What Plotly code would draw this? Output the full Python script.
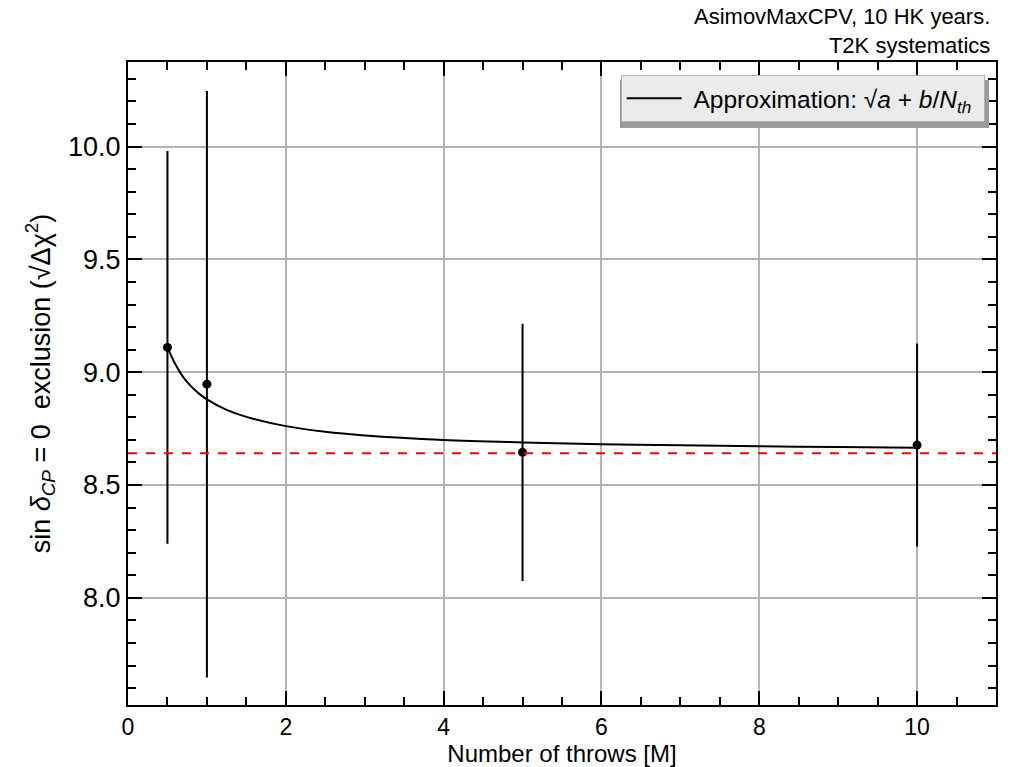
import plotly.graph_objects as go

# Measured points (Number of throws [M], sqrt(delta chi2)) with symmetric errors
throws = [0.5, 1.0, 5.0, 10.0]
exclusion = [9.11, 8.947, 8.645, 8.677]
exclusion_err = [0.87, 1.30, 0.57, 0.45]

# Approximation curve sqrt(a + b/N_th)
curve_n = [0.5, 0.6, 0.7, 0.8, 0.9, 1.0, 1.25, 1.5, 2.0, 2.5, 3.0, 4.0, 5.0, 6.0, 7.0, 8.0, 9.0, 10.0]
curve_y = [9.11, 9.035, 8.978, 8.937, 8.905, 8.880, 8.833, 8.802, 8.761, 8.736, 8.720, 8.700, 8.689, 8.681, 8.676, 8.672, 8.668, 8.665]

# Asymptote sqrt(a)
asymptote = 8.641

x_ticks = [0, 2, 4, 6, 8, 10]
y_ticks = [8.0, 8.5, 9.0, 9.5, 10.0]

fig = go.Figure()

fig.add_trace(go.Scatter(
    x=curve_n, y=curve_y, mode="lines", line=dict(color="black", width=2, shape="spline"),
    name="\u00a0Approximation: √<i>a</i> + <i>b</i>/<i>N</i><sub><i>th</i></sub>\u00a0",
    showlegend=True,
))

fig.add_trace(go.Scatter(
    x=throws, y=exclusion, mode="markers",
    marker=dict(color="black", size=9),
    error_y=dict(type="data", array=exclusion_err, color="black", thickness=2, width=0),
    showlegend=False,
))

fig.add_hline(y=asymptote, line=dict(color="red", width=2, dash="dash"))

axis_common = dict(
    showline=True, linecolor="black", linewidth=2, mirror="allticks",
    ticks="inside", ticklen=14, tickwidth=2, tickcolor="black",
    showgrid=True, gridcolor="#b3b3b3", gridwidth=2, zeroline=False,
    automargin=False,
)

fig.update_xaxes(
    range=[0, 11], tickvals=x_ticks, ticktext=[str(v) for v in x_ticks],
    tickfont=dict(family="Liberation Sans", size=23, color="black"),
    title=dict(text="Number of throws [M]", font=dict(family="Liberation Sans", size=24, color="black"), standoff=0),
    minor=dict(dtick=0.5, ticks="inside", ticklen=8, tickwidth=1.5, tickcolor="black", showgrid=False),
    **axis_common,
)
fig.update_yaxes(
    range=[7.525, 10.375], tickvals=y_ticks, ticktext=[f"{v:.1f}" for v in y_ticks],
    tickfont=dict(family="Liberation Sans", size=27, color="black"),
    title=dict(text="sin <i>δ</i><sub><i>CP</i></sub> = 0\u00a0\u00a0exclusion (√Δχ<sup>2</sup>)",
               font=dict(family="Liberation Sans", size=27, color="black"), standoff=10),
    minor=dict(dtick=0.1, ticks="inside", ticklen=8, tickwidth=1.5, tickcolor="black", showgrid=False),
    **axis_common,
)

fig.add_annotation(
    text="AsimovMaxCPV, 10 HK years.<br>T2K systematics",
    xref="paper", yref="paper", x=0.995, y=1.0, xanchor="right", yanchor="bottom",
    yshift=2, align="right", showarrow=False,
    font=dict(family="Liberation Sans", size=22, color="black"),
)

# Legend drop shadow (drawn beneath the legend box, offset right/down)
fig.add_shape(
    type="rect", xref="paper", yref="paper",
    x0=(620 - 128) / 868, x1=(989 - 128) / 868,
    y0=(705 - 128) / 643, y1=(705 - 80) / 643,
    fillcolor="#9a9a9a", line=dict(width=0), layer="above",
)

fig.update_layout(
    width=1015, height=767,
    margin=dict(l=128, r=19, t=62, b=62),
    paper_bgcolor="white", plot_bgcolor="white",
    legend=dict(
        x=0.987, y=0.98, xanchor="right", yanchor="top",
        bgcolor="#ebebeb", bordercolor="#b0b0b0", borderwidth=1,
        font=dict(family="Liberation Sans", size=24.5, color="black"),
        itemwidth=55,
    ),
)

fig.write_html("out.html")
